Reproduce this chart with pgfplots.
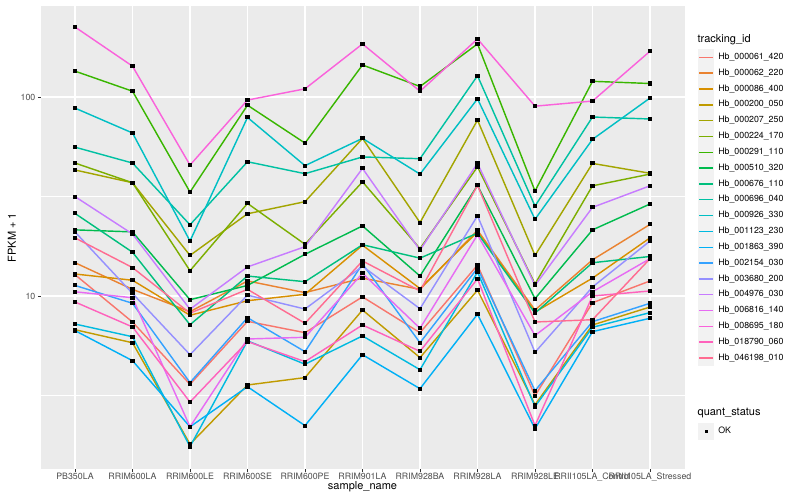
\documentclass[border=0pt]{standalone}
\usepackage{fontspec}
\setmainfont{TeX Gyre Heros}
\usepackage{pgfplots}
\usepackage{pgfplotstable}
\pgfplotsset{compat=1.18}

\definecolor{panel}{HTML}{EBEBEB}
\definecolor{ticktxt}{HTML}{4D4D4D}
\definecolor{tickcol}{HTML}{333333}
\definecolor{keybg}{HTML}{F2F2F2}
% ggplot hue palette, 20 levels
\definecolor{c01}{HTML}{F8766D}
\definecolor{c02}{HTML}{EA8331}
\definecolor{c03}{HTML}{D89000}
\definecolor{c04}{HTML}{C09B00}
\definecolor{c05}{HTML}{A3A500}
\definecolor{c06}{HTML}{7CAE00}
\definecolor{c07}{HTML}{39B600}
\definecolor{c08}{HTML}{00BB4E}
\definecolor{c09}{HTML}{00BF7D}
\definecolor{c10}{HTML}{00C1A3}
\definecolor{c11}{HTML}{00BFC4}
\definecolor{c12}{HTML}{00BAE0}
\definecolor{c13}{HTML}{00B0F6}
\definecolor{c14}{HTML}{35A2FF}
\definecolor{c15}{HTML}{9590FF}
\definecolor{c16}{HTML}{C77CFF}
\definecolor{c17}{HTML}{E76BF3}
\definecolor{c18}{HTML}{FA62DB}
\definecolor{c19}{HTML}{FF62BC}
\definecolor{c20}{HTML}{FF6C91}

% FPKM + 1 per sample (rows: PB350LA ... RRII105LA_Stressed)
\pgfplotstableread{
s  c01   c02   c03   c04   c05   c06   c07  c08   c09   c10   c11   c12   c13   c14   c15   c16   c17   c18   c19   c20
0  12.8  14.7  12.9  6.77  43.0  46.6  135  21.5  26.0  56.0  88.0  7.23  6.70  11.3  21.0  31.6  10.5  225   9.33  19.6
1  7.40  10.8  12.0  5.82  37.1  37.1  107  21.0  16.6  46.6  66.0  6.24  4.73  9.19  10.3  20.5  9.80  143   6.99  13.9
2  3.60  8.34  8.00  1.80  16.0  13.4  33.3 9.58  7.17  22.8  18.9  1.75  2.20  3.67  5.07  8.58  2.20  45.5  2.93  8.20
3  7.46  11.9  9.47  3.57  25.9  29.2  91.0 11.3  12.6  47.3  79.0  5.95  3.50  7.78  10.1  14.0  6.08  96.6  5.90  10.8
4  6.54  10.4  10.2  3.89  29.8  18.2  58.7 16.2  11.8  41.2  45.2  4.54  2.23  5.25  8.60  17.7  6.20  110   4.68  7.29
5  9.90  12.3  18.0  8.50  62.0  37.5  145  22.5  18.1  50.0  62.0  6.30  5.07  14.5  14.1  43.8  13.0  185   7.15  15.0
6  6.54  10.8  10.9  4.90  23.4  17.3  113  12.6  15.5  49.0  41.0  4.26  3.42  5.82  8.63  17.0  6.88  107   5.27  10.6
7  14.3  21.4  21.0  10.7  76.6  44.6  185  36.0  20.7  128   98.0  13.2  8.10  13.8  25.3  46.4  20.3  196   12.2  36.0
8  3.15  8.50  8.30  2.84  16.0  11.5  33.7 9.70  8.20  28.3  24.3  2.78  2.15  3.34  5.21  11.3  6.33  90.0  2.23  7.40
9  9.25  15.2  12.3  7.15  46.4  35.8  120  21.5  14.7  79.4  61.3  6.96  6.62  7.43  11.1  27.9  10.5  95.5  10.0  7.60
10 11.9  22.9  19.6  8.80  41.4  41.0  117  29.0  15.8  77.6  98.9  8.25  7.73  9.19  18.9  35.8  15.4  170   10.6  15.4
}\expr

\pgfplotsset{
  keybox/.style={
    legend image code/.code={
      \path[draw=none, fill=none] (0pt,-6.48pt) rectangle (12.96pt,6.48pt);
      \path[draw=none, fill=keybg] (0.35pt,-6.13pt) rectangle (12.61pt,6.13pt);
      \draw[##1, line width=1.07pt] (1.3pt,0pt) -- (11.66pt,0pt);
    }
  },
  ggleg/.style={
    legend cell align=left,
    legend style={
      draw=none, fill=none, inner sep=0pt, row sep=-1.09pt, column sep=2.6pt,
      font=\fontsize{6.6}{7.9}\selectfont,
      nodes={inner sep=0pt},
      anchor=north west,
    },
  },
  dots/.style={forget plot, only marks, mark=square*, mark size=1.15pt,
    mark options={fill=black, draw=black, line width=0pt}},
}

\begin{document}
\begin{tikzpicture}
\useasboundingbox (0,0) rectangle (600pt,375pt);
\begin{axis}[
  at={(30.375pt,23.25pt)}, anchor=south west,
  scale only axis, width=483pt, height=347.25pt,
  axis background/.style={fill=panel},
  axis line style={draw=none},
  xmin=-0.6, xmax=10.6,
  ymode=log, ymin=1.35, ymax=287,
  xtick={0,...,10},
  xticklabels={PB350LA,RRIM600LA,RRIM600LE,RRIM600SE,RRIM600PE,RRIM901LA,RRIM928BA,RRIM928LA,RRIM928LE,RRII105LA\_Control,RRII105LA\_Stressed},
  ytick={10,100}, yticklabels={10,100},
  minor ytick={3.1623,31.623},
  tick pos=left, tick align=outside,
  major tick length=2.06pt, minor tick length=0pt,
  tick style={tickcol, line width=0.5pt},
  grid=both,
  major grid style={white, line width=1.07pt},
  minor grid style={white, line width=0.53pt},
  ticklabel style={font=\fontsize{6.6}{7.9}\selectfont, text=ticktxt, inner sep=0pt},
  xticklabel style={yshift=-0.9pt},
  yticklabel style={xshift=-1.6pt},
  xlabel={sample\_name}, ylabel={FPKM + 1},
  label style={font=\fontsize{8.25}{9.9}\selectfont},
  xlabel style={at={(axis description cs:0.5,-0.0389)}, anchor=center},
  ylabel style={at={(axis description cs:-0.0443,0.5)}, anchor=center},
  keybox, ggleg,
  legend style={at={(axis description cs:1.0199,0.9084)}},
  every axis plot/.append style={line width=1.07pt},
]
\addplot[c01, no marks] table[x=s, y=c01] {\expr}; \addlegendentry{Hb\_000061\_420}
\addplot[c02, no marks] table[x=s, y=c02] {\expr}; \addlegendentry{Hb\_000062\_220}
\addplot[c03, no marks] table[x=s, y=c03] {\expr}; \addlegendentry{Hb\_000086\_400}
\addplot[c04, no marks] table[x=s, y=c04] {\expr}; \addlegendentry{Hb\_000200\_050}
\addplot[c05, no marks] table[x=s, y=c05] {\expr}; \addlegendentry{Hb\_000207\_250}
\addplot[c06, no marks] table[x=s, y=c06] {\expr}; \addlegendentry{Hb\_000224\_170}
\addplot[c07, no marks] table[x=s, y=c07] {\expr}; \addlegendentry{Hb\_000291\_110}
\addplot[c08, no marks] table[x=s, y=c08] {\expr}; \addlegendentry{Hb\_000510\_320}
\addplot[c09, no marks] table[x=s, y=c09] {\expr}; \addlegendentry{Hb\_000676\_110}
\addplot[c10, no marks] table[x=s, y=c10] {\expr}; \addlegendentry{Hb\_000696\_040}
\addplot[c11, no marks] table[x=s, y=c11] {\expr}; \addlegendentry{Hb\_000926\_330}
\addplot[c12, no marks] table[x=s, y=c12] {\expr}; \addlegendentry{Hb\_001123\_230}
\addplot[c13, no marks] table[x=s, y=c13] {\expr}; \addlegendentry{Hb\_001863\_390}
\addplot[c14, no marks] table[x=s, y=c14] {\expr}; \addlegendentry{Hb\_002154\_030}
\addplot[c15, no marks] table[x=s, y=c15] {\expr}; \addlegendentry{Hb\_003680\_200}
\addplot[c16, no marks] table[x=s, y=c16] {\expr}; \addlegendentry{Hb\_004976\_030}
\addplot[c17, no marks] table[x=s, y=c17] {\expr}; \addlegendentry{Hb\_006816\_140}
\addplot[c18, no marks] table[x=s, y=c18] {\expr}; \addlegendentry{Hb\_008695\_180}
\addplot[c19, no marks] table[x=s, y=c19] {\expr}; \addlegendentry{Hb\_018790\_060}
\addplot[c20, no marks] table[x=s, y=c20] {\expr}; \addlegendentry{Hb\_046198\_010}
% points on top of every line
\foreach \c in {c01,c02,c03,c04,c05,c06,c07,c08,c09,c10,c11,c12,c13,c14,c15,c16,c17,c18,c19,c20}{
  \addplot[dots] table[x=s, y=\c] {\expr};
}
\end{axis}

% second legend: quant_status
\begin{axis}[
  at={(30.375pt,23.25pt)}, anchor=south west,
  scale only axis, width=483pt, height=347.25pt,
  hide axis, xmin=0, xmax=1, ymin=0, ymax=1,
  ggleg,
  legend style={at={(axis description cs:1.0199,0.1006)}},
  legend image code/.code={
    \path[draw=none, fill=none] (0pt,-6.48pt) rectangle (12.96pt,6.48pt);
    \path[draw=none, fill=keybg] (0.35pt,-6.13pt) rectangle (12.61pt,6.13pt);
    \path[draw=none, fill=black] (5.33pt,-1.15pt) rectangle (7.63pt,1.15pt);
  },
]
\addlegendimage{black}
\addlegendentry{OK}
\end{axis}

\node[anchor=west, inner sep=0pt, font=\fontsize{8.25}{9.9}\selectfont] at (522.98pt,345pt) {tracking\_id};
\node[anchor=west, inner sep=0pt, font=\fontsize{8.25}{9.9}\selectfont] at (522.98pt,65.25pt) {quant\_status};
\end{tikzpicture}
\end{document}
